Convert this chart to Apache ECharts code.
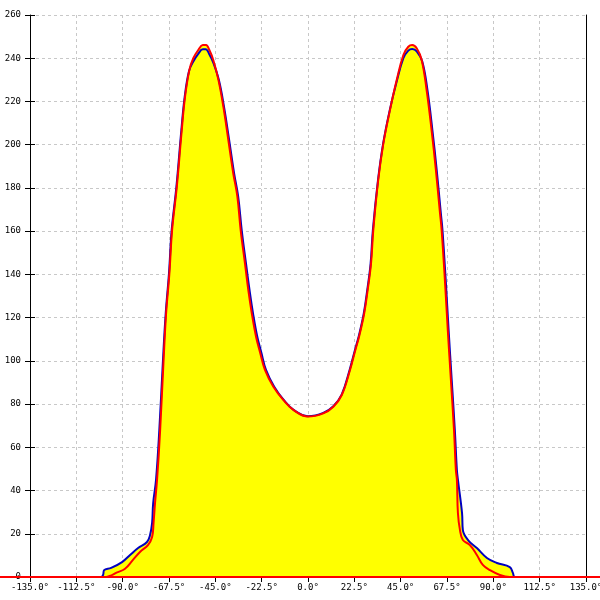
<!DOCTYPE html>
<html>
<head>
<meta charset="utf-8">
<script src="https://cdn.jsdelivr.net/npm/echarts@6/dist/echarts.min.js"></script>
<style>html,body{margin:0;padding:0;background:#fff}#c{width:600px;height:600px}</style>
</head>
<body>
<div id="c"></div>
<script>
// Angles (degrees) and intensities
var redAngles = [-180,-98,-95,-93,-89,-85,-81.6,-77.7,-75.7,-75,-74.3,-73.3,-71.8,-70.2,-68.9,-67.3,-66,-63.7,-61.3,-59.7,-57.6,-55.7,-53.3,-51.1,-49.5,-47.9,-46,-43.5,-41.1,-38.7,-36.3,-34.3,-32.7,-30.6,-29,-27.3,-25.2,-23.3,-20.9,-16.8,-12,-7.1,0,7.4,12.3,16.4,20.4,23,25,27.3,29,30.6,31.7,34.1,36.6,39.8,43.1,46.3,48.7,50.6,52.8,55.2,57.6,60,62.1,64.1,64.9,66.5,67.9,69.4,70.9,71.8,72.3,72.8,73.8,75.2,78.6,82,84.9,88.3,93.2,98,180];
var redValues = [0,0,1,2,3.7,7.9,11.6,14.8,18.5,25,34,45,68,99,122,140.6,160.5,180.6,206.8,222.2,234.6,240,243.8,246.1,246.1,243.8,239.2,230,217.6,202.2,186.8,176,160.5,145,132.8,122,111,104,95.8,88,81.9,77.3,74.2,75.7,78.8,84.2,95.8,105,112,122,133,145,160.5,183.7,200.6,216,230,241.5,245.3,246.1,244.6,239.2,225.3,206.8,188.3,168.3,160.5,137,114,91,68,49.5,45,29.6,21.7,17.1,14.8,10.2,5.6,3.2,0.9,0,0];
var blueAngles = [-180,-100.5,-99.5,-99,-95.6,-90.3,-86.4,-82.5,-78.2,-76.7,-75.7,-75.2,-73.8,-72.2,-70.5,-69.1,-67.5,-66.2,-63.9,-61.5,-59.9,-57.8,-55.7,-53.3,-51.1,-49.7,-48,-46,-43.3,-40.8,-38.3,-35.9,-33.9,-32.2,-30.1,-28.4,-26.7,-24.6,-22.7,-20.4,-16.4,-11.8,-7,0,7.4,12.3,16.4,20.2,22.8,24.8,27.1,28.8,30.4,31.5,34,36.5,39.7,43,46.3,48.7,50.6,52.8,55.5,58,60.4,62.5,64.5,65.3,66.9,68.3,69.8,71.3,72.3,72.8,74.8,75.2,77.7,82,86.9,91.7,98,99.5,100.5,180];
var blueValues = [0,0,1,3.2,4.2,6.9,10.2,13.4,16.2,19.4,25,34,45,68,99,122,140.6,160.5,180.6,206.8,222,234,238.5,242,244.2,244.2,242,238,230,217.6,202.2,186.8,176,160.5,145,132.8,122,111,104,95.8,88,81.9,77.3,74.4,75.9,79,84.5,95.8,105,112,122,133,145,160.5,183.7,200.6,216,229,240,243.5,244.3,243.2,238.5,225.3,206.8,188.3,168.3,160.5,137,114,91,68,49.5,45,29.6,21.7,17.1,13.4,8.8,6.5,4.6,1.9,0,0];
// Zero baseline of the red trace, which continues past the plotted angle range
var baselineAngles = [-180, 180];
var baselineValues = [0, 0];
var xMin = -135, xMax = 135, xStep = 22.5;
var yMin = 0, yMax = 260, yStep = 20;

function pairs(a, v){ return a.map(function(x,i){ return [x, v[i]]; }); }
var redData = pairs(redAngles, redValues);
var blueData = pairs(blueAngles, blueValues);
var baseData = pairs(baselineAngles, baselineValues);

var font = {fontFamily: 'DejaVu Sans Mono', fontSize: 9, color: '#000'};
var chart = echarts.init(document.getElementById('c'), null, {renderer: 'canvas'});
var smooth = 0.4;
var W = 600, L = 30, R = 14;
// the full-width baseline grid spans the whole canvas; its angle range follows from the main grid scale
var degPerPx = (xMax - xMin) / (W - L - R);
var bMin = xMin - L * degPerPx, bMax = xMax + R * degPerPx;
chart.setOption({
  animation: false,
  backgroundColor: '#fff',
  grid: [
    {left: L, right: R, top: 15, bottom: 23, containLabel: false, outerBoundsMode: 'none'},
    {left: 0, right: 0, top: 15, bottom: 23, containLabel: false, outerBoundsMode: 'none'}
  ],
  xAxis: [{
    type: 'value', min: xMin, max: xMax, interval: xStep, gridIndex: 0,
    axisLine: {show: true, onZero: false, lineStyle: {color: '#000', width: 1}},
    axisTick: {show: true, length: 5, lineStyle: {color: '#000'}},
    axisLabel: Object.assign({margin: 6, formatter: function(v){ return v.toFixed(1) + '°'; }}, font),
    splitLine: {show: true, lineStyle: {color: '#c8c8c8', type: [3, 3]}}
  }, {
    type: 'value', min: bMin, max: bMax, gridIndex: 1, show: false
  }],
  yAxis: [{
    type: 'value', min: yMin, max: yMax, interval: yStep, position: 'left', gridIndex: 0,
    axisLine: {show: true, onZero: false, lineStyle: {color: '#000', width: 1}},
    axisTick: {show: true, length: 5, lineStyle: {color: '#000'}},
    axisLabel: Object.assign({margin: 9}, font),
    splitLine: {show: true, lineStyle: {color: '#c8c8c8', type: [3, 3]}}
  }, {
    type: 'value', min: yMin, max: yMax, interval: yStep, position: 'right', gridIndex: 0,
    axisLine: {show: true, onZero: false, lineStyle: {color: '#000', width: 1}},
    axisTick: {show: false}, axisLabel: {show: false}, splitLine: {show: false}
  }, {
    type: 'value', min: yMin, max: yMax, gridIndex: 1, show: false
  }, {
    type: 'value', min: yMin, max: yMax, interval: yStep, position: 'left', gridIndex: 0,
    axisLine: {show: false, onZero: false},
    axisTick: {show: true, inside: true, length: 5, lineStyle: {color: '#000'}},
    axisLabel: {show: false}, splitLine: {show: false}
  }],
  series: [
    {type: 'line', data: blueData, smooth: smooth, symbol: 'none', lineStyle: {width: 0},
     areaStyle: {color: '#ffff00', opacity: 1}, z: 1},
    {type: 'line', data: redData, smooth: smooth, symbol: 'none', lineStyle: {width: 0},
     areaStyle: {color: '#ffff00', opacity: 1}, z: 1},
    {type: 'line', data: blueData, smooth: smooth, symbol: 'none', z: 3,
     lineStyle: {color: '#0000c0', width: 2}},
    {type: 'line', data: redData, smooth: smooth, symbol: 'none', z: 4,
     lineStyle: {color: '#ff0000', width: 2}},
    {type: 'line', data: baseData, xAxisIndex: 1, yAxisIndex: 2, symbol: 'none', z: 5,
     clip: false, lineStyle: {color: '#ff0000', width: 2}}
  ]
});
</script>
</body>
</html>
